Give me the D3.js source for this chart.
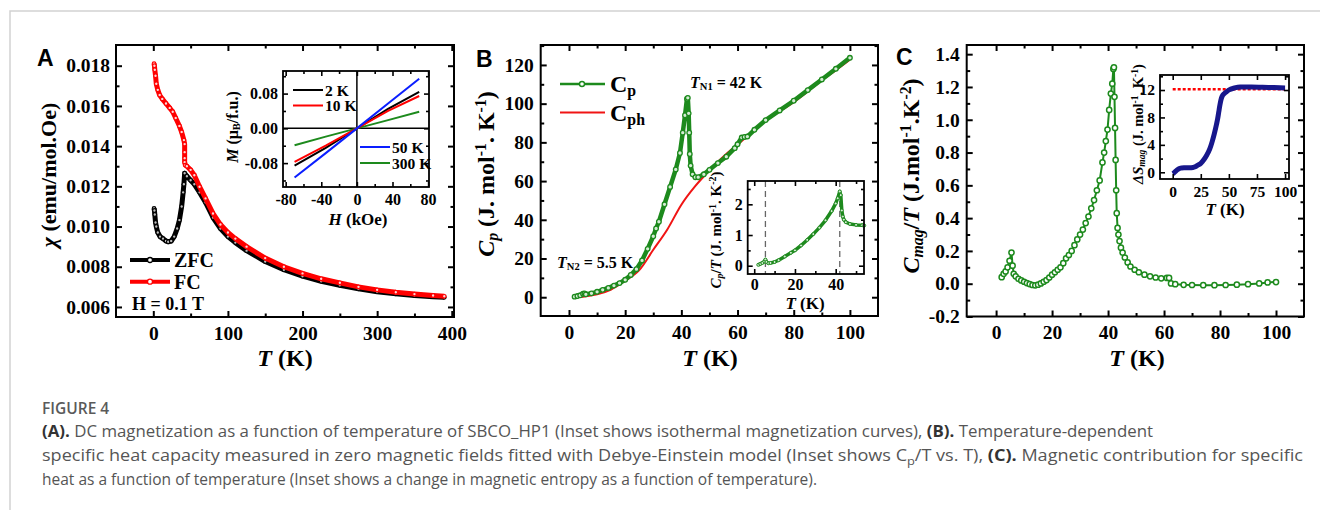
<!DOCTYPE html>
<html>
<head>
<meta charset="utf-8">
<script src="https://cdn.jsdelivr.net/npm/d3@7"></script>
<style>
  html, body { margin: 0; padding: 0; background: #fff; }
  svg { display: block; }
</style>
</head>
<body>
<script>
// ---------- Panel A: DC susceptibility ----------
const tFC   = [1, 1.5, 2, 3, 4, 6, 8.5, 12, 17, 22, 26, 30, 35, 38, 41, 42, 42, 42, 42, 43, 45, 50, 55, 62, 70, 80, 90, 100, 110, 125, 150, 175, 200, 225, 250, 275, 300, 325, 350, 375, 390];
const chiFC = [0.0181, 0.0180, 0.0178, 0.0175, 0.0171, 0.0168, 0.01654, 0.01635, 0.01612, 0.0159, 0.01571, 0.0154, 0.0150, 0.0147, 0.0143, 0.0141, 0.0137, 0.0134, 0.0132, 0.01305, 0.0130, 0.01282, 0.01255, 0.01198, 0.0114, 0.01065, 0.0101, 0.0097, 0.0094, 0.0090, 0.00843, 0.0080, 0.00767, 0.0074, 0.0072, 0.0070, 0.00685, 0.00673, 0.00664, 0.00657, 0.00653];
const tZFC   = [1, 1.5, 2, 3, 4, 6, 9, 13, 17, 20, 24, 28, 32, 35, 38, 40, 41, 42, 45, 50, 55, 62, 70, 80, 90, 100, 110, 125, 150, 175, 200, 225, 250, 275, 300, 325, 350, 375, 390];
const chiZFC = [0.0109, 0.0108, 0.0106, 0.0102, 0.0100, 0.0097, 0.0095, 0.0094, 0.00928, 0.00924, 0.00928, 0.0095, 0.0099, 0.01032, 0.0110, 0.0117, 0.0121, 0.01265, 0.0125, 0.0123, 0.0121, 0.0117, 0.0112, 0.01045, 0.0099, 0.0095, 0.0092, 0.0088, 0.00826, 0.00785, 0.00753, 0.00728, 0.00708, 0.0069, 0.00676, 0.00665, 0.00657, 0.00651, 0.00648];
const aXTicks = [0, 100, 200, 300, 400];
const aYTicks = [0.006, 0.008, 0.010, 0.012, 0.014, 0.016, 0.018];

// Inset A: isothermal M(H)
const hField = [-70, -35, 0, 35, 70];
const m2K   = [-0.086, -0.045, 0, 0.045, 0.0837];
const m10K  = [-0.077, -0.040, 0, 0.040, 0.0745];
const m50K  = [-0.113, -0.057, 0, 0.057, 0.114];
const m300K = [-0.039, -0.019, 0, 0.019, 0.038];
const insAXTicks = [-80, -40, 0, 40, 80];
const insAYTicks = [-0.08, 0.00, 0.08];

// ---------- Panel B: specific heat ----------
const tCp = [2, 3, 4, 5, 5.5, 6, 8, 10, 12, 14, 16, 18, 20, 22, 24, 26, 28, 30, 31, 32, 34, 36, 38, 39.5, 40.5, 41.3, 42, 42.3, 42.6, 42.8, 43, 43.3, 44, 45, 46, 48, 50, 53, 56, 59, 60, 61.5, 62.5, 63.5, 66, 70, 75, 80, 85, 90, 95, 100];
const cp  = [0.3, 0.6, 1.0, 1.8, 2.0, 1.5, 2.0, 2.8, 3.8, 4.8, 6.0, 7.3, 9.0, 11.5, 14.5, 19, 25, 31.5, 35.5, 39, 48, 57, 66, 74.5, 85, 94, 102.5, 103, 95, 85, 74, 68, 63.5, 62, 62, 63.5, 65.8, 69.3, 72.6, 77, 79, 82.5, 82.8, 83, 86.5, 91.5, 96.5, 101.5, 107, 112.5, 118, 123.7];
const tCph = [2, 5, 10, 15, 20, 25, 30, 35, 40, 45, 50, 55, 60, 65, 70, 75, 80, 85, 90, 95, 100];
const cph  = [0, 0.3, 1.5, 4, 8.5, 14, 24.5, 35, 47.8, 57.5, 65.5, 72.7, 78.8, 85, 91, 96, 100.8, 106.3, 112, 117.3, 122.7];
const bXTicks = [0, 20, 40, 60, 80, 100];
const bYTicks = [0, 20, 40, 60, 80, 100, 120];

// Inset B: Cp/T
const tCpT = [2, 3, 4, 5, 5.5, 6, 7, 8, 10, 12, 15, 18, 20, 23, 26, 29, 32, 35, 38, 40, 41, 42, 42.5, 43, 43.5, 44, 45, 47, 50, 53, 54];
const cpT  = [0.03, 0.06, 0.09, 0.14, 0.2, 0.12, 0.08, 0.09, 0.12, 0.18, 0.3, 0.42, 0.5, 0.66, 0.84, 1.03, 1.24, 1.48, 1.78, 2.03, 2.2, 2.42, 2.3, 1.8, 1.6, 1.5, 1.42, 1.36, 1.33, 1.32, 1.31];
const transitions = [5.5, 42];
const insBXTicks = [0, 20, 40];
const insBYTicks = [0, 1, 2];

// ---------- Panel C: magnetic contribution ----------
const tMag = [2, 2.7, 3.4, 4.1, 4.8, 5.5, 5.9, 6.3, 7, 8, 9, 10, 11, 12, 13, 14, 15, 16, 17, 18, 19, 20, 21, 22, 23, 24, 25, 26, 27, 28, 29, 30, 31, 32, 33, 34, 35, 36, 37, 38, 38.6, 39.2, 39.8, 40.4, 41, 41.5, 41.9, 42.1, 42.3, 42.5, 42.7, 42.9, 43.1, 43.4, 43.7, 44.1, 44.6, 45.2, 46, 47, 48, 49.5, 51, 53, 55, 57, 59, 61, 61.8, 62.5, 64, 67, 70, 74, 78, 82, 86, 90, 94, 97, 100];
const cMag = [0.04, 0.06, 0.075, 0.1, 0.14, 0.19, 0.11, 0.06, 0.045, 0.03, 0.02, 0.012, 0.004, -0.002, -0.008, -0.01, -0.006, 0.002, 0.012, 0.022, 0.038, 0.055, 0.07, 0.085, 0.1, 0.125, 0.155, 0.175, 0.2, 0.235, 0.27, 0.30, 0.33, 0.37, 0.41, 0.46, 0.51, 0.57, 0.63, 0.74, 0.80, 0.87, 0.94, 1.06, 1.16, 1.22, 1.31, 1.32, 1.14, 0.95, 0.755, 0.57, 0.43, 0.34, 0.3, 0.26, 0.22, 0.19, 0.16, 0.13, 0.105, 0.085, 0.07, 0.055, 0.045, 0.038, 0.033, 0.035, 0.035, 0.002, -0.003, -0.007, -0.008, -0.009, -0.009, -0.008, -0.006, -0.003, 0.002, 0.008, 0.01];
const cXTicks = [0, 20, 40, 60, 80, 100];
const cYTicks = [-0.2, 0.0, 0.2, 0.4, 0.6, 0.8, 1.0, 1.2, 1.4];

// Inset C: magnetic entropy
const tS = [0, 1, 2, 3, 4, 5, 6, 7, 8, 10, 12, 15, 18, 20, 22, 25, 28, 30, 33, 35, 37, 39, 40, 41, 42, 43, 44, 46, 48, 50, 55, 60, 70, 80, 90, 100];
const dS = [-0.2, -0.1, 0.05, 0.2, 0.35, 0.45, 0.55, 0.6, 0.62, 0.65, 0.66, 0.66, 0.7, 0.8, 1.0, 1.3, 1.9, 2.4, 3.4, 4.4, 5.6, 7.0, 7.8, 8.8, 9.8, 10.6, 11.1, 11.5, 11.75, 12.0, 12.3, 12.45, 12.45, 12.4, 12.35, 12.3];
const sLimit = 12.1;
const insCXTicks = [0, 25, 50, 75, 100];
const insCYTicks = [0, 4, 8, 12];

// ---------- drawing ----------
const SERIF = "'Liberation Serif', 'Times New Roman', serif";
const GREEN = "#1d8a1d", RED = "#ff0000", NAVY = "#17178c";

const svg = d3.select("body").append("svg").attr("width", 1320).attr("height", 510);

// page frame
svg.append("path").attr("d", "M10,510 V11 H1320").attr("fill", "none")
   .attr("stroke", "#d2d2d2").attr("stroke-width", 1.5);

const range = (a, b, s) => d3.range(a, b + s / 2, s);

function drawAxes(g, x, y, o) {
  const [xl, xr] = x.range(), [yb, yt] = y.range();
  const ml = o.maj, mn = o.min;
  const style = (sel, w) => {
    sel.select(".domain").remove();
    sel.selectAll(".tick line").attr("stroke", "#000").attr("stroke-width", w);
    sel.selectAll(".tick text").attr("font-family", SERIF).attr("font-weight", "bold")
       .attr("font-size", o.fs).attr("fill", "#000");
  };
  const mk = (axisFn, scale, vals, len, fmt, pad) =>
    axisFn(scale).tickValues(vals).tickSize(-len).tickPadding(pad).tickFormat(fmt);
  const none = () => "";
  // minor ticks
  if (o.xMin) {
    g.append("g").attr("transform", `translate(0,${yb})`).call(mk(d3.axisBottom, x, o.xMin, mn, none, 0)).call(s => style(s, o.sw));
    g.append("g").attr("transform", `translate(0,${yt})`).call(mk(d3.axisTop, x, o.xMin, mn, none, 0)).call(s => style(s, o.sw));
  }
  if (o.yMin) {
    g.append("g").attr("transform", `translate(${xl},0)`).call(mk(d3.axisLeft, y, o.yMin, mn, none, 0)).call(s => style(s, o.sw));
    g.append("g").attr("transform", `translate(${xr},0)`).call(mk(d3.axisRight, y, o.yMin, mn, none, 0)).call(s => style(s, o.sw));
  }
  // major ticks
  g.append("g").attr("transform", `translate(0,${yb})`).call(mk(d3.axisBottom, x, o.xMaj, ml, o.xFmt, o.xPad)).call(s => style(s, o.sw));
  g.append("g").attr("transform", `translate(0,${yt})`).call(mk(d3.axisTop, x, o.xMaj, ml, none, 0)).call(s => style(s, o.sw));
  g.append("g").attr("transform", `translate(${xl},0)`).call(mk(d3.axisLeft, y, o.yMaj, ml, o.yFmt, o.yPad)).call(s => style(s, o.sw));
  g.append("g").attr("transform", `translate(${xr},0)`).call(mk(d3.axisRight, y, o.yMaj, ml, none, 0)).call(s => style(s, o.sw));
  g.append("rect").attr("x", xl).attr("y", yt).attr("width", xr - xl).attr("height", yb - yt)
   .attr("fill", "none").attr("stroke", "#000").attr("stroke-width", o.fw);
}

// rich text: parts = [[text, {italic, sub, sup}], ...]
function richText(g, x, y, parts, fs, opts = {}) {
  const t = g.append("text").attr("x", x).attr("y", y).attr("font-family", SERIF)
    .attr("font-weight", "bold").attr("font-size", fs).attr("fill", opts.fill || "#000")
    .attr("text-anchor", opts.anchor || "start");
  if (opts.rotate) t.attr("transform", `rotate(-90,${x},${y})`);
  for (const [s, f = {}] of parts) {
    const sp = t.append("tspan").text(s);
    if (f.italic) sp.attr("font-style", "italic");
    if (f.sub) sp.attr("font-size", fs * 0.66).attr("baseline-shift", "-22%");
    if (f.sup) sp.attr("font-size", fs * 0.66).attr("baseline-shift", "super");
  }
  return t;
}

function panelLetter(x, y, s) {
  svg.append("text").attr("x", x).attr("y", y).text(s)
     .attr("font-family", "'Liberation Sans', Arial, sans-serif").attr("font-weight", "bold")
     .attr("font-size", 23).attr("fill", "#000");
}

const fmtMinus = f => v => f(v).replace("−", "-");

// dense open-circle series drawn as a thick band with markers
function band(g, x, y, data, color, o) {
  g.append("path").attr("d", d3.line().x(d => x(d[0])).y(d => y(d[1]))(data))
   .attr("fill", "none").attr("stroke", color).attr("stroke-width", o.w).attr("stroke-linejoin", "round");
  g.append("g").selectAll("circle").data(data).enter().append("circle")
   .attr("cx", d => x(d[0])).attr("cy", d => y(d[1])).attr("r", o.r)
   .attr("fill", o.fill || "#fff").attr("stroke", color).attr("stroke-width", o.sw);
}

// ===== Panel A =====
{
  const g = svg.append("g");
  const x = d3.scaleLinear().domain([-50, 403]).range([116, 454]);
  const y = d3.scaleLinear().domain([0.0055, 0.01903]).range([317, 45]);
  drawAxes(g, x, y, {
    xMaj: aXTicks, xMin: range(50, 350, 100), yMaj: aYTicks, yMin: range(0.007, 0.017, 0.002),
    maj: 6, min: 3.5, fs: 19.5, sw: 2, fw: 2, xPad: 9, yPad: 6,
    xFmt: d3.format("d"), yFmt: d3.format(".3f")
  });
  band(g, x, y, d3.zip(tZFC, chiZFC), "#000", { w: 5, r: 1.8, sw: 1.2, fill: "#bbb" });
  band(g, x, y, d3.zip(tFC, chiFC), RED, { w: 5, r: 1.8, sw: 1.2, fill: "#ffd6d6" });

  // legend
  [["ZFC", "#000", 260], ["FC", RED, 281.7]].forEach(([lab, c, ly]) => {
    g.append("line").attr("x1", 130).attr("x2", 170).attr("y1", ly).attr("y2", ly).attr("stroke", c).attr("stroke-width", 4);
    g.append("circle").attr("cx", 150).attr("cy", ly).attr("r", 2.5).attr("fill", "#fff").attr("stroke", c).attr("stroke-width", 1.3);
    richText(g, 174, ly + 7, [[lab]], 20);
  });
  richText(g, 132, 310, [["H = 0.1 T"]], 18);

  // axis titles
  richText(g, 285, 366, [["T", { italic: true }], [" (K)"]], 24, { anchor: "middle" });
  richText(g, 56, 175, [["χ", { italic: true }], [" (emu/mol.Oe)"]], 22, { anchor: "middle", rotate: true });

  // inset
  const gi = svg.append("g");
  const xi = d3.scaleLinear().domain([-83, 81]).range([283, 429]);
  const yi = d3.scaleLinear().domain([-0.135, 0.132]).range([187, 71]);
  gi.append("rect").attr("x", 283).attr("y", 71).attr("width", 146).attr("height", 116).attr("fill", "#fff");
  gi.append("line").attr("x1", xi(0)).attr("x2", xi(0)).attr("y1", 71).attr("y2", 187).attr("stroke", "#000").attr("stroke-width", 1.5);
  gi.append("line").attr("x1", 283).attr("x2", 429).attr("y1", yi(0)).attr("y2", yi(0)).attr("stroke", "#000").attr("stroke-width", 1.5);
  const iline = d3.line().x(d => xi(d[0])).y(d => yi(d[1]));
  const curves = [[m300K, GREEN], [m2K, "#000"], [m10K, RED], [m50K, "#0a1eff"]];
  curves.forEach(([m, c]) => gi.append("path").attr("d", iline(d3.zip(hField, m))).attr("fill", "none").attr("stroke", c).attr("stroke-width", 2));
  drawAxes(gi, xi, yi, {
    xMaj: insAXTicks, xMin: [-60, -20, 20, 60], yMaj: insAYTicks, yMin: [-0.12, -0.04, 0.04, 0.12],
    maj: 5, min: 3, fs: 16, sw: 1.6, fw: 1.8, xPad: 7, yPad: 5,
    xFmt: fmtMinus(d3.format("d")), yFmt: fmtMinus(d3.format(".2f"))
  });
  [["2 K", "#000", 293, 90], ["10 K", RED, 293, 105.5], ["50 K", "#0a1eff", 360, 147], ["300 K", GREEN, 360, 163]].forEach(([lab, c, lx, ly]) => {
    gi.append("line").attr("x1", lx).attr("x2", lx + 30).attr("y1", ly).attr("y2", ly).attr("stroke", c).attr("stroke-width", 2);
    richText(gi, lx + 32, ly + 5.5, [[lab]], 15.5);
  });
  richText(gi, 358, 225, [["H", { italic: true }], [" (kOe)"]], 17, { anchor: "middle" });
  richText(gi, 238, 127, [["M", { italic: true }], [" (μ"], ["B", { sub: true }], ["/f.u.)"]], 16, { anchor: "middle", rotate: true });

  panelLetter(37, 66, "A");
}

// ===== Panel B =====
{
  const g = svg.append("g");
  const x = d3.scaleLinear().domain([-10.07, 110]).range([540.7, 878]);
  const y = d3.scaleLinear().domain([-9.7, 130.3]).range([316, 45]);
  drawAxes(g, x, y, {
    xMaj: bXTicks, xMin: range(10, 90, 20), yMaj: bYTicks, yMin: range(10, 130, 20),
    maj: 6, min: 3.5, fs: 19.5, sw: 2, fw: 2, xPad: 9, yPad: 7,
    xFmt: d3.format("d"), yFmt: d3.format("d")
  });
  g.append("path").attr("d", d3.line().x(d => x(d[0])).y(d => y(d[1])).curve(d3.curveMonotoneX)(d3.zip(tCph, cph)))
    .attr("fill", "none").attr("stroke", "#f01414").attr("stroke-width", 2);
  band(g, x, y, d3.zip(tCp, cp), GREEN, { w: 4.5, r: 2.3, sw: 1.3, fill: "#d4ecd4" });

  // legend
  g.append("line").attr("x1", 560).attr("x2", 605).attr("y1", 84).attr("y2", 84).attr("stroke", GREEN).attr("stroke-width", 2.5);
  g.append("circle").attr("cx", 582).attr("cy", 84).attr("r", 2.5).attr("fill", "#fff").attr("stroke", GREEN).attr("stroke-width", 1.4);
  richText(g, 610, 92, [["C"], ["p", { sub: true }]], 24);
  g.append("line").attr("x1", 560).attr("x2", 605).attr("y1", 112.5).attr("y2", 112.5).attr("stroke", "#f01414").attr("stroke-width", 2);
  richText(g, 610, 121, [["C"], ["ph", { sub: true }]], 24);

  // annotations
  richText(g, 690, 88, [["T", { italic: true }], ["N1", { sub: true }], [" = 42 K"]], 16);
  richText(g, 557, 268, [["T", { italic: true }], ["N2", { sub: true }], [" = 5.5 K"]], 16);

  richText(g, 710, 366, [["T", { italic: true }], [" (K)"]], 24, { anchor: "middle" });
  richText(g, 494, 174, [["C", { italic: true }], ["p", { italic: true, sub: true }], [" (J. mol"], ["-1", { sup: true }], [". K"], ["-1", { sup: true }], [")"]], 24, { anchor: "middle", rotate: true });

  // inset
  const gi = svg.append("g");
  const xi = d3.scaleLinear().domain([-3.2, 53.9]).range([747.7, 864]);
  const yi = d3.scaleLinear().domain([-0.27, 2.76]).range([274, 181]);
  gi.append("rect").attr("x", 747.7).attr("y", 181).attr("width", 116.3).attr("height", 93).attr("fill", "#fff");
  transitions.forEach(t => gi.append("line").attr("x1", xi(t)).attr("x2", xi(t)).attr("y1", 181).attr("y2", 274)
    .attr("stroke", "#666").attr("stroke-width", 1.3).attr("stroke-dasharray", "6,4"));
  band(gi, xi, yi, d3.zip(tCpT, cpT), GREEN, { w: 3.5, r: 1.5, sw: 1, fill: "#d4ecd4" });
  drawAxes(gi, xi, yi, {
    xMaj: insBXTicks, xMin: [10, 30, 50], yMaj: insBYTicks, yMin: [0.5, 1.5, 2.5],
    maj: 5, min: 3, fs: 16, sw: 1.6, fw: 1.8, xPad: 5, yPad: 5,
    xFmt: d3.format("d"), yFmt: d3.format("d")
  });
  richText(gi, 805, 309, [["T", { italic: true }], [" (K)"]], 17, { anchor: "middle" });
  richText(gi, 721, 230, [["C", { italic: true }], ["p", { italic: true, sub: true }], ["/"], ["T", { italic: true }], [" (J. mol"], ["-1", { sup: true }], [". K"], ["-2", { sup: true }], [")"]], 15, { anchor: "middle", rotate: true });

  panelLetter(476, 67, "B");
}

// ===== Panel C =====
{
  const g = svg.append("g");
  const x = d3.scaleLinear().domain([-10.5, 110]).range([966.7, 1304]);
  const y = d3.scaleLinear().domain([-0.2, 1.456]).range([316.5, 45]);
  drawAxes(g, x, y, {
    xMaj: cXTicks, xMin: range(10, 90, 20), yMaj: cYTicks, yMin: range(-0.1, 1.3, 0.2),
    maj: 6, min: 3.5, fs: 19.5, sw: 2, fw: 2, xPad: 9, yPad: 7,
    xFmt: d3.format("d"), yFmt: fmtMinus(d3.format(".1f"))
  });
  band(g, x, y, d3.zip(tMag, cMag), GREEN, { w: 2, r: 2.6, sw: 1.5, fill: "#fff" });

  richText(g, 1137, 366, [["T", { italic: true }], [" (K)"]], 24, { anchor: "middle" });
  richText(g, 919, 176, [["C", { italic: true }], ["mag", { italic: true, sub: true }], ["/"], ["T", { italic: true }], [" (J.mol"], ["-1", { sup: true }], [".K"], ["-2", { sup: true }], [")"]], 24, { anchor: "middle", rotate: true });

  // inset
  const gi = svg.append("g");
  const xi = d3.scaleLinear().domain([-11.3, 103.5]).range([1160, 1289]);
  const yi = d3.scaleLinear().domain([-0.98, 14.19]).range([179, 75]);
  gi.append("rect").attr("x", 1160).attr("y", 75).attr("width", 129).attr("height", 104).attr("fill", "#fff");
  gi.append("line").attr("x1", xi(0)).attr("x2", xi(100)).attr("y1", yi(sLimit)).attr("y2", yi(sLimit))
    .attr("stroke", RED).attr("stroke-width", 2.5).attr("stroke-dasharray", "3,2");
  gi.append("path").attr("d", d3.line().x(d => xi(d[0])).y(d => yi(d[1])).curve(d3.curveMonotoneX)(d3.zip(tS, dS)))
    .attr("fill", "none").attr("stroke", NAVY).attr("stroke-width", 5);
  drawAxes(gi, xi, yi, {
    xMaj: insCXTicks, xMin: null, yMaj: insCYTicks, yMin: [2, 6, 10, 14],
    maj: 5, min: 3, fs: 15.5, sw: 1.6, fw: 1.8, xPad: 7, yPad: 5,
    xFmt: d3.format("d"), yFmt: d3.format("d")
  });
  richText(gi, 1225, 215, [["T", { italic: true }], [" (K)"]], 17, { anchor: "middle" });
  richText(gi, 1143, 124, [["ΔS", { italic: true }], ["mag", { italic: true, sub: true }], [" (J. mol"], ["-1", { sup: true }], [". K"], ["-1", { sup: true }], [")"]], 14.5, { anchor: "middle", rotate: true });

  panelLetter(896, 65, "C");
}

// ---------- caption ----------
const cap = svg.append("g").attr("font-family", "'Open Sans', 'Noto Sans', sans-serif").attr("fill", "#555");
cap.append("text").attr("x", 42).attr("y", 414).attr("font-size", 15.5).attr("font-weight", 600).attr("fill", "#5a5a5a").text("FIGURE 4");
const capLines = [
  { w: 1111, parts: [["(A).", true], [" DC magnetization as a function of temperature of SBCO_HP1 (Inset shows isothermal magnetization curves), "], ["(B).", true], [" Temperature-dependent"]] },
  { w: 1261, parts: [["specific heat capacity measured in zero magnetic fields fitted with Debye-Einstein model (Inset shows C"], ["p", false, true], ["/T vs. T), "], ["(C).", true], [" Magnetic contribution for specific"]] },
  { w: 775, parts: [["heat as a function of temperature (Inset shows a change in magnetic entropy as a function of temperature)."]] }
];
capLines.forEach((ln, i) => {
  const t = cap.append("text").attr("x", 42).attr("y", 437 + i * 24).attr("font-size", 15.5)
    .attr("textLength", ln.w).attr("lengthAdjust", "spacingAndGlyphs");
  ln.parts.forEach(([s, b, sub]) => {
    const sp = t.append("tspan").text(s);
    if (b) sp.attr("font-weight", "bold").attr("fill", "#333");
    if (sub) sp.attr("font-size", 11).attr("dy", 4);
    else if (sp.node().previousSibling && sp.node().previousSibling.getAttribute("dy") === "4") sp.attr("dy", -4);
  });
});
</script>
</body>
</html>
